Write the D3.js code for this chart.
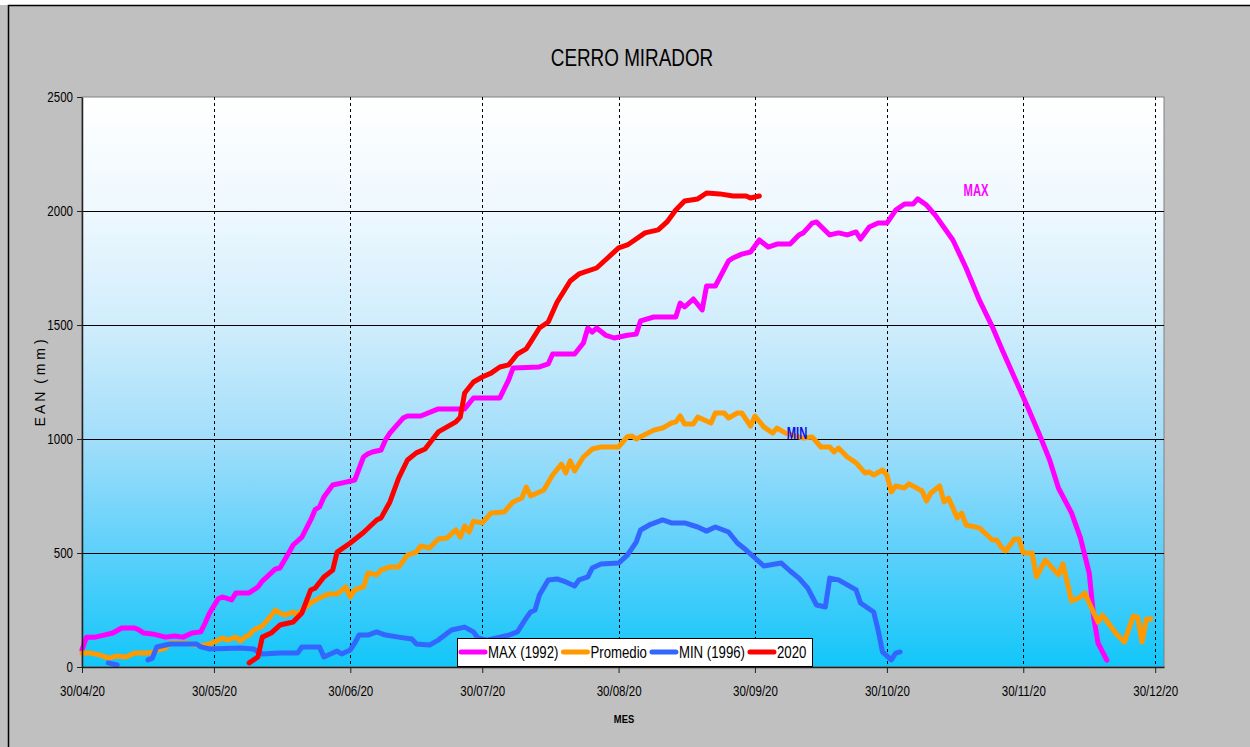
<!DOCTYPE html>
<html>
<head>
<meta charset="utf-8">
<script src="https://cdn.jsdelivr.net/npm/d3@7"></script>
<style>
  body { margin: 0; background: #fff; }
  text { font-family: "Liberation Sans", Arial, sans-serif; }
</style>
</head>
<body>
<svg id="chart"></svg>
<script>

// EAN (mm) por fecha
var maxSerie = [
  ["30/04",75],["01/05",131],["03/05",131],["05/05",140],["07/05",149],["09/05",171],["12/05",171],
  ["13/05",162],["14/05",149],["16/05",145],["19/05",131],["21/05",136],["23/05",131],["25/05",149],
  ["27/05",154],["28/05",193],["29/05",237],["31/05",300],["01/06",307],["03/06",294],["04/06",325],
  ["07/06",325],["09/06",351],["10/06",377],["13/06",430],["14/06",434],["16/06",500],["17/06",535],
  ["19/06",570],["21/06",645],["22/06",690],["23/06",702],["24/06",746],["25/06",772],["26/06",798],
  ["29/06",811],["01/07",820],["03/07",921],["04/07",935],["05/07",943],["07/07",952],["08/07",996],
  ["09/07",1026],["12/07",1092],["13/07",1101],["16/07",1101],["20/07",1132],["26/07",1132],
  ["28/07",1180],["03/08",1180],["05/08",1259],["06/08",1311],["12/08",1316],["14/08",1329],
  ["15/08",1373],["20/08",1373],["22/08",1421],["23/08",1487],["24/08",1469],["25/08",1487],
  ["27/08",1456],["29/08",1443],["01/09",1455],["03/09",1460],["04/09",1518],["07/09",1535],
  ["12/09",1535],["13/09",1596],["14/09",1579],["16/09",1614],["18/09",1566],["19/09",1671],
  ["21/09",1671],["24/09",1781],["25/09",1794],["27/09",1811],["29/09",1820],["01/10",1873],
  ["03/10",1842],["05/10",1855],["08/10",1855],["10/10",1895],["11/10",1904],["13/10",1947],
  ["14/10",1952],["17/10",1895],["19/10",1904],["21/10",1895],["23/10",1908],["24/10",1877],
  ["26/10",1930],["28/10",1947],["30/10",1947],["01/11",2004],["03/11",2031],["05/11",2031],
  ["06/11",2053],["08/11",2026],["10/11",1982],["14/11",1873],["17/11",1750],["20/11",1610],
  ["23/11",1491],["25/11",1400],["28/11",1270],["01/12",1140],["04/12",1004],["06/12",908],
  ["08/12",785],["11/12",675],["13/12",566],["15/12",412],["16/12",220],["17/12",105],["19/12",30]
];

var promedioSerie = [
  ["30/04",61],["02/05",61],["04/05",53],["06/05",39],["08/05",48],["10/05",44],["11/05",53],
  ["12/05",61],["15/05",61],["16/05",66],["19/05",83],["20/05",105],["23/05",105],["25/05",101],
  ["27/05",92],["29/05",101],["31/05",118],["01/06",127],["02/06",118],["04/06",131],["05/06",114],
  ["06/06",131],["07/06",140],["08/06",162],["10/06",180],["11/06",202],["13/06",250],["14/06",237],
  ["15/06",228],["17/06",241],["18/06",228],["19/06",250],["21/06",281],["23/06",303],["25/06",320],
  ["27/06",320],["29/06",351],["30/06",307],["01/07",338],["03/07",351],["04/07",412],["06/07",404],
  ["07/07",425],["09/07",439],["11/07",439],["13/07",491],["15/07",504],["16/07",531],["18/07",522],
  ["20/07",561],["22/07",566],["24/07",601],["25/07",570],["26/07",618],["27/07",592],["28/07",640],
  ["30/07",632],["01/08",675],["04/08",680],["06/08",724],["08/08",741],["09/08",789],["10/08",750],
  ["13/08",776],["15/08",842],["17/08",890],["18/08",851],["19/08",904],["20/08",860],["22/08",921],
  ["24/08",956],["26/08",965],["30/08",965],["01/09",1010],["02/09",1013],["03/09",1000],
  ["07/09",1039],["09/09",1048],["11/09",1070],["12/09",1075],["13/09",1101],["14/09",1066],
  ["16/09",1066],["17/09",1096],["19/09",1079],["20/09",1070],["21/09",1114],["23/09",1114],
  ["24/09",1092],["26/09",1114],["27/09",1114],["29/09",1057],["30/09",1101],["02/10",1053],
  ["04/10",1026],["05/10",1048],["07/10",1026],["11/10",1004],["13/10",1009],["15/10",965],
  ["17/10",965],["18/10",943],["19/10",960],["21/10",921],["23/10",895],["25/10",851],["26/10",855],
  ["27/10",842],["29/10",864],["30/10",842],["31/10",768],["01/11",794],["03/11",785],["04/11",803],
  ["07/11",772],["08/11",728],["09/11",763],["11/11",794],["12/11",724],["13/11",741],["15/11",654],
  ["16/11",675],["17/11",623],["20/11",610],["23/11",557],["24/11",557],["25/11",526],["26/11",509],
  ["28/11",561],["29/11",561],["30/11",500],["02/12",500],["03/12",395],["05/12",469],["08/12",404],
  ["09/12",452],["11/12",289],["13/12",307],["14/12",325],["15/12",281],["17/12",197],["18/12",228],
  ["21/12",149],["23/12",110],["25/12",224],["26/12",219],["27/12",110],["28/12",210],["29/12",210]
];

var minSerie = [
  ["06/05",18],["08/05",9],["11/05",null],
  ["15/05",31],["16/05",39],["17/05",88],["20/05",101],["26/05",101],["27/05",88],["29/05",79],
  ["05/06",83],["08/06",79],["10/06",57],["14/06",61],["18/06",61],["19/06",88],["23/06",88],
  ["24/06",44],["27/06",70],["28/06",57],["30/06",75],["01/07",105],["02/07",140],["04/07",140],
  ["06/07",154],["08/07",140],["11/07",131],["14/07",123],["15/07",101],["18/07",96],["20/07",118],
  ["23/07",162],["26/07",175],["28/07",154],["29/07",127],["31/07",118],["03/08",131],["05/08",140],
  ["07/08",154],["09/08",215],["10/08",241],["11/08",250],["12/08",316],["14/08",382],["16/08",386],
  ["18/08",373],["20/08",355],["21/08",382],["23/08",395],["24/08",434],["26/08",452],["30/08",456],
  ["01/09",491],["03/09",548],["04/09",601],["06/09",623],["09/09",645],["11/09",632],["14/09",632],
  ["17/09",614],["19/09",596],["21/09",614],["24/09",592],["26/09",544],["28/09",513],["30/09",478],
  ["02/10",443],["06/10",456],["08/10",421],["10/10",390],["12/10",346],["14/10",272],["16/10",263],
  ["17/10",390],["19/10",382],["21/10",360],["23/10",338],["24/10",281],["27/10",241],["28/10",162],
  ["29/10",66],["31/10",31],["01/11",61],["02/11",66]
];

var serie2020 = [
  ["07/06",18],["09/06",44],["10/06",131],["12/06",149],["14/06",184],["16/06",193],["17/06",197],
  ["19/06",237],["21/06",338],["22/06",346],["24/06",395],["26/06",425],["27/06",504],["30/06",544],
  ["03/07",590],["06/07",645],["07/07",654],["09/07",724],["11/07",829],["13/07",908],["15/07",939],
  ["17/07",956],["20/07",1031],["22/07",1053],["24/07",1075],["25/07",1096],["26/07",1202],
  ["28/07",1250],["30/07",1272],["01/08",1289],["03/08",1316],["05/08",1325],["07/08",1373],
  ["09/08",1395],["10/08",1425],["12/08",1487],["14/08",1513],["16/08",1600],["19/08",1693],
  ["21/08",1724],["25/08",1750],["27/08",1785],["30/08",1838],["01/09",1851],["02/09",1864],
  ["05/09",1904],["08/09",1917],["10/09",1952],["12/09",2004],["14/09",2044],["17/09",2053],
  ["19/09",2079],["22/09",2075],["25/09",2066],["28/09",2066],["29/09",2057],["01/10",2066]
];

var seriesNames = ["MAX (1992)", "Promedio", "MIN (1996)", "2020"];
var seriesColors = ["#ff00ff", "#ff9900", "#3366ff", "#ff0000"];
var yTicks = [0, 500, 1000, 1500, 2000, 2500];
var xTickLabels = ["30/04/20","30/05/20","30/06/20","30/07/20","30/08/20","30/09/20","30/10/20","30/11/20","30/12/20"];

var width = 1250;
var height = 747;
var plotLeft = 82, plotTop = 97, plotRight = 1164, plotBottom = 667;

var parseDay = d3.timeParse("%d/%m/%Y");
var parseTick = d3.timeParse("%d/%m/%y");

// the picture uses a narrow face: squeeze text horizontally
function squeeze(sel, k) {
  sel.each(function() {
    var len = this.getComputedTextLength();
    d3.select(this)
      .attr("textLength", len * k)
      .attr("lengthAdjust", "spacingAndGlyphs");
  });
}

var svg = d3.select("#chart")
              .attr("width", width)
              .attr("height", height);

// fondo gris con marco
svg.append("rect")
  .attr("x", 0).attr("y", 5)
  .attr("width", width).attr("height", height)
  .attr("fill", "#c0c0c0");
svg.append("path")
  .attr("d", "M8.5," + height + "V5.5H" + width)
  .attr("fill", "none")
  .attr("stroke", "#000")
  .attr("stroke-width", 1.5);

var x = d3.scaleTime()
  .domain([parseDay("30/04/2020"), parseDay("01/01/2021")])
  .range([plotLeft, plotRight]);

var y = d3.scaleLinear()
  .domain([0, 2500])
  .range([plotBottom, plotTop]);

var grad = svg.append("defs").append("linearGradient")
  .attr("id", "bg")
  .attr("x1", 0).attr("y1", 0).attr("x2", 0).attr("y2", 1);
[[0, "#ffffff"], [0.2, "#eef8fe"], [0.4, "#d0edfc"], [0.6, "#a2defa"], [0.8, "#5cd0fb"], [1, "#12c6f9"]]
  .forEach(s => grad.append("stop").attr("offset", s[0]).attr("stop-color", s[1]));

svg.append("rect")
  .attr("x", plotLeft).attr("y", plotTop)
  .attr("width", plotRight - plotLeft).attr("height", plotBottom - plotTop)
  .attr("fill", "url(#bg)")
  .attr("stroke", "#808080");

// rejilla
svg.append("g")
  .selectAll("line")
  .data(yTicks.slice(1, -1))
  .enter()
  .append("line")
    .attr("x1", plotLeft).attr("x2", plotRight)
    .attr("y1", d => y(d) + 0.5).attr("y2", d => y(d) + 0.5)
    .attr("stroke", "#000");

var tickDates = xTickLabels.map(parseTick);

svg.append("g")
  .selectAll("line")
  .data(tickDates.slice(1))
  .enter()
  .append("line")
    .attr("x1", d => Math.round(x(d)) + 0.5).attr("x2", d => Math.round(x(d)) + 0.5)
    .attr("y1", plotTop).attr("y2", plotBottom)
    .attr("stroke", "#000")
    .attr("stroke-dasharray", "3,3");

// series
var line = d3.line()
  .defined(d => d[1] != null)
  .x(d => x(parseDay(d[0] + "/2020")))
  .y(d => y(d[1]));

var allSeries = [maxSerie, promedioSerie, minSerie, serie2020];

svg.append("g")
  .selectAll("path")
  .data(allSeries)
  .enter()
  .append("path")
    .attr("d", line)
    .attr("fill", "none")
    .attr("stroke", (d, i) => seriesColors[i])
    .attr("stroke-width", 5)
    .attr("stroke-linejoin", "round")
    .attr("stroke-linecap", "round");

// ejes
var yAxis = svg.append("g")
  .attr("transform", "translate(" + plotLeft + ",0)")
  .call(d3.axisLeft(y).tickValues(yTicks).tickFormat(d3.format("d"))
          .tickSize(5).tickPadding(4).tickSizeOuter(0));

var xAxis = svg.append("g")
  .attr("transform", "translate(0," + plotBottom + ")")
  .call(d3.axisBottom(x).tickValues(tickDates).tickFormat(d3.timeFormat("%d/%m/%y"))
          .tickSize(6).tickPadding(12).tickSizeOuter(0));

[yAxis, xAxis].forEach(a => {
  a.select(".domain").attr("stroke", "#222").attr("stroke-width", 1.5);
  a.selectAll(".tick line").attr("stroke", "#222");
  a.selectAll(".tick text")
    .attr("fill", "#000")
    .style("font-family", "'Liberation Sans', Arial, sans-serif")
    .style("font-size", "15px")
    .call(squeeze, 0.77);
});

// titulos
svg.append("text")
  .attr("x", 632).attr("y", 66)
  .attr("text-anchor", "middle")
  .style("font-size", "23px")
  .text("CERRO MIRADOR")
  .call(squeeze, 0.82);

svg.append("text")
  .attr("transform", "translate(45,383) rotate(-90)")
  .attr("text-anchor", "middle")
  .style("font-size", "14px")
  .style("white-space", "pre")
  .text("E A N  ( m m )");

svg.append("text")
  .attr("x", 624).attr("y", 723)
  .attr("text-anchor", "middle")
  .style("font-size", "11px")
  .style("font-weight", "bold")
  .text("MES")
  .call(squeeze, 0.85);

svg.append("text")
  .attr("x", 976).attr("y", 196)
  .attr("text-anchor", "middle")
  .attr("fill", "#ff00ff")
  .style("font-size", "17px")
  .style("font-weight", "bold")
  .text("MAX")
  .call(squeeze, 0.66);

svg.append("text")
  .attr("x", 797).attr("y", 439)
  .attr("text-anchor", "middle")
  .attr("fill", "#1010e0")
  .style("font-size", "17px")
  .style("font-weight", "bold")
  .text("MIN")
  .call(squeeze, 0.66);

// leyenda
var legend = svg.append("g");
legend.append("rect")
  .attr("x", 457.5).attr("y", 638.5)
  .attr("width", 355).attr("height", 28)
  .attr("fill", "#fff")
  .attr("stroke", "#000");

var lx = 461;
seriesNames.forEach((name, i) => {
  legend.append("line")
    .attr("x1", lx).attr("x2", lx + 24)
    .attr("y1", 652).attr("y2", 652)
    .attr("stroke", seriesColors[i])
    .attr("stroke-width", 5)
    .attr("stroke-linecap", "round");
  var t = legend.append("text")
    .attr("x", lx + 27).attr("y", 658)
    .style("font-size", "16.5px")
    .text(name)
    .call(squeeze, 0.8);
  lx += 27 + (+t.attr("textLength")) + 5;
});

</script>
</body>
</html>
